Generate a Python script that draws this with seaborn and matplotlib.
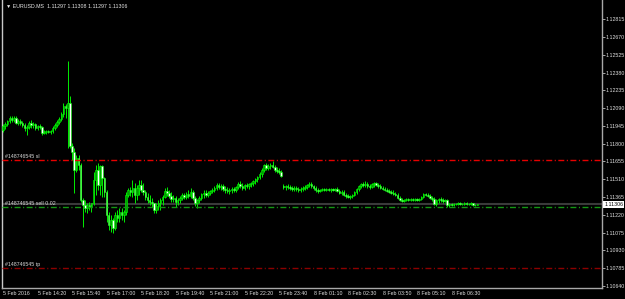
import numpy as np
import pandas as pd
import matplotlib
matplotlib.use("Agg")
import matplotlib.pyplot as plt
import matplotlib.font_manager as fm
import seaborn as sns

# ---------------- data ----------------
symbol = "EURUSD.MS"
order_id = "#148746545"
lot_size = "0.02"

open_ = [
    1.11912, 1.11945, 1.11961, 1.11986, 1.12010, 1.11994, 1.12010, 1.11969, 1.11986, 1.11969,
    1.11953, 1.11928, 1.11937, 1.11969, 1.11953, 1.11961, 1.11928, 1.11945, 1.11937, 1.11888,
    1.11896, 1.11904, 1.11896, 1.11904, 1.11928, 1.11953, 1.11977, 1.12002, 1.12043, 1.12108,
    1.12092, 1.12132, 1.11782, 1.11733, 1.11586, 1.11684, 1.11627, 1.11341, 1.11300, 1.11276,
    1.11300, 1.11284, 1.11317, 1.11504, 1.11586, 1.11463, 1.11618, 1.11520, 1.11406, 1.11219,
    1.11137, 1.11178, 1.11112, 1.11219, 1.11194, 1.11243, 1.11219, 1.11243, 1.11382, 1.11423,
    1.11406, 1.11439, 1.11382, 1.11439, 1.11463, 1.11423, 1.11406, 1.11365, 1.11341, 1.11325,
    1.11317, 1.11259, 1.11292, 1.11317, 1.11341, 1.11365, 1.11414, 1.11398, 1.11374, 1.11349,
    1.11357, 1.11325, 1.11341, 1.11357, 1.11382, 1.11365, 1.11390, 1.11374, 1.11406, 1.11357,
    1.11317, 1.11341, 1.11357, 1.11390, 1.11398, 1.11382, 1.11398, 1.11414, 1.11423, 1.11439,
    1.11463, 1.11447, 1.11455, 1.11431, 1.11423, 1.11414, 1.11423, 1.11431, 1.11423, 1.11447,
    1.11472, 1.11455, 1.11439, 1.11463, 1.11455, 1.11472, 1.11480, 1.11496, 1.11512, 1.11529,
    1.11553, 1.11586, 1.11627, 1.11602, 1.11618, 1.11627, 1.11610, 1.11586, 1.11578, 1.11569,
    1.11455, 1.11447, 1.11455, 1.11447, 1.11439, 1.11431, 1.11439, 1.11431, 1.11423, 1.11431,
    1.11439, 1.11447, 1.11463, 1.11472, 1.11455, 1.11439, 1.11423, 1.11414, 1.11423, 1.11431,
    1.11423, 1.11431, 1.11423, 1.11431, 1.11423, 1.11431, 1.11414, 1.11398, 1.11406, 1.11382,
    1.11374, 1.11365, 1.11374, 1.11382, 1.11406, 1.11431, 1.11455, 1.11472, 1.11463, 1.11472,
    1.11455, 1.11447, 1.11472, 1.11480, 1.11463, 1.11455, 1.11439, 1.11431, 1.11423, 1.11414,
    1.11406, 1.11398, 1.11390, 1.11382, 1.11357, 1.11341, 1.11333, 1.11341, 1.11349, 1.11341,
    1.11349, 1.11341, 1.11349, 1.11341, 1.11349, 1.11365, 1.11390, 1.11382, 1.11374, 1.11357,
    1.11349, 1.11308, 1.11341, 1.11349, 1.11341, 1.11333, 1.11341, 1.11300, 1.11308, 1.11300,
    1.11308, 1.11308, 1.11317, 1.11308, 1.11308, 1.11317, 1.11308, 1.11308, 1.11317, 1.11300,
    1.11297,
]
high = [
    1.11961, 1.11977, 1.11994, 1.12026, 1.12026, 1.12026, 1.12026, 1.12002, 1.12002, 1.11986,
    1.11969, 1.11953, 1.11986, 1.11994, 1.11977, 1.11969, 1.11953, 1.11961, 1.11945, 1.11912,
    1.11912, 1.11912, 1.11912, 1.11945, 1.11969, 1.11994, 1.12018, 1.12059, 1.12132, 1.12124,
    1.12475, 1.12190, 1.11806, 1.11765, 1.11708, 1.11708, 1.11643, 1.11357, 1.11341, 1.11317,
    1.11325, 1.11308, 1.11569, 1.11627, 1.11643, 1.11627, 1.11627, 1.11529, 1.11423, 1.11243,
    1.11219, 1.11194, 1.11243, 1.11259, 1.11276, 1.11276, 1.11259, 1.11406, 1.11439, 1.11447,
    1.11504, 1.11480, 1.11463, 1.11504, 1.11504, 1.11480, 1.11423, 1.11398, 1.11382, 1.11357,
    1.11317, 1.11317, 1.11341, 1.11357, 1.11382, 1.11439, 1.11447, 1.11423, 1.11406, 1.11382,
    1.11374, 1.11357, 1.11374, 1.11398, 1.11398, 1.11406, 1.11423, 1.11439, 1.11423, 1.11374,
    1.11349, 1.11374, 1.11398, 1.11423, 1.11423, 1.11414, 1.11423, 1.11439, 1.11455, 1.11480,
    1.11480, 1.11472, 1.11472, 1.11455, 1.11447, 1.11439, 1.11447, 1.11447, 1.11455, 1.11488,
    1.11496, 1.11480, 1.11472, 1.11480, 1.11480, 1.11488, 1.11504, 1.11520, 1.11537, 1.11569,
    1.11602, 1.11635, 1.11643, 1.11635, 1.11643, 1.11659, 1.11627, 1.11610, 1.11602, 1.11586,
    1.11472, 1.11463, 1.11472, 1.11463, 1.11455, 1.11455, 1.11455, 1.11447, 1.11447, 1.11455,
    1.11463, 1.11472, 1.11488, 1.11488, 1.11463, 1.11455, 1.11439, 1.11431, 1.11439, 1.11439,
    1.11439, 1.11439, 1.11439, 1.11439, 1.11439, 1.11447, 1.11431, 1.11423, 1.11423, 1.11398,
    1.11390, 1.11382, 1.11390, 1.11414, 1.11439, 1.11463, 1.11480, 1.11488, 1.11496, 1.11488,
    1.11472, 1.11480, 1.11488, 1.11488, 1.11480, 1.11472, 1.11455, 1.11447, 1.11439, 1.11431,
    1.11423, 1.11423, 1.11406, 1.11398, 1.11374, 1.11357, 1.11349, 1.11357, 1.11357, 1.11357,
    1.11357, 1.11357, 1.11357, 1.11357, 1.11374, 1.11398, 1.11398, 1.11398, 1.11390, 1.11374,
    1.11365, 1.11349, 1.11357, 1.11365, 1.11357, 1.11349, 1.11349, 1.11317, 1.11317, 1.11317,
    1.11317, 1.11325, 1.11325, 1.11317, 1.11325, 1.11325, 1.11317, 1.11325, 1.11317, 1.11308,
    1.11308,
]
low = [
    1.11896, 1.11920, 1.11945, 1.11969, 1.11977, 1.11977, 1.11961, 1.11953, 1.11953, 1.11937,
    1.11904, 1.11871, 1.11920, 1.11928, 1.11928, 1.11912, 1.11912, 1.11920, 1.11871, 1.11880,
    1.11880, 1.11888, 1.11880, 1.11888, 1.11912, 1.11937, 1.11961, 1.11986, 1.12018, 1.12010,
    1.11765, 1.11765, 1.11667, 1.11398, 1.11569, 1.11586, 1.11325, 1.11121, 1.11243, 1.11235,
    1.11259, 1.11243, 1.11300, 1.11382, 1.11423, 1.11382, 1.11365, 1.11365, 1.11161, 1.11096,
    1.11080, 1.11072, 1.11096, 1.11161, 1.11161, 1.11178, 1.11161, 1.11219, 1.11365, 1.11374,
    1.11365, 1.11317, 1.11341, 1.11382, 1.11406, 1.11382, 1.11341, 1.11317, 1.11300, 1.11284,
    1.11235, 1.11235, 1.11259, 1.11259, 1.11300, 1.11357, 1.11374, 1.11357, 1.11325, 1.11325,
    1.11284, 1.11300, 1.11317, 1.11341, 1.11349, 1.11349, 1.11357, 1.11357, 1.11341, 1.11292,
    1.11276, 1.11317, 1.11341, 1.11357, 1.11365, 1.11365, 1.11382, 1.11398, 1.11406, 1.11423,
    1.11431, 1.11423, 1.11414, 1.11398, 1.11398, 1.11390, 1.11398, 1.11406, 1.11406, 1.11431,
    1.11439, 1.11423, 1.11423, 1.11439, 1.11431, 1.11447, 1.11455, 1.11472, 1.11488, 1.11512,
    1.11529, 1.11569, 1.11586, 1.11586, 1.11594, 1.11602, 1.11569, 1.11561, 1.11553, 1.11529,
    1.11431, 1.11423, 1.11431, 1.11423, 1.11414, 1.11414, 1.11414, 1.11406, 1.11406, 1.11414,
    1.11423, 1.11431, 1.11447, 1.11439, 1.11423, 1.11406, 1.11398, 1.11406, 1.11414, 1.11414,
    1.11414, 1.11414, 1.11406, 1.11414, 1.11414, 1.11406, 1.11390, 1.11382, 1.11374, 1.11357,
    1.11357, 1.11349, 1.11357, 1.11374, 1.11390, 1.11414, 1.11439, 1.11447, 1.11447, 1.11439,
    1.11431, 1.11439, 1.11447, 1.11455, 1.11439, 1.11431, 1.11423, 1.11414, 1.11406, 1.11398,
    1.11390, 1.11382, 1.11374, 1.11349, 1.11333, 1.11325, 1.11325, 1.11333, 1.11333, 1.11333,
    1.11333, 1.11333, 1.11333, 1.11333, 1.11341, 1.11357, 1.11374, 1.11365, 1.11349, 1.11333,
    1.11300, 1.11292, 1.11317, 1.11325, 1.11317, 1.11325, 1.11284, 1.11284, 1.11292, 1.11292,
    1.11300, 1.11300, 1.11300, 1.11300, 1.11300, 1.11300, 1.11300, 1.11300, 1.11292, 1.11292,
    1.11297,
]
close = [
    1.11945, 1.11961, 1.11986, 1.12010, 1.11994, 1.12010, 1.11969, 1.11986, 1.11969, 1.11953,
    1.11928, 1.11937, 1.11969, 1.11953, 1.11961, 1.11928, 1.11945, 1.11937, 1.11888, 1.11896,
    1.11904, 1.11896, 1.11904, 1.11928, 1.11953, 1.11977, 1.12002, 1.12043, 1.12108, 1.12092,
    1.12132, 1.11782, 1.11733, 1.11586, 1.11684, 1.11627, 1.11341, 1.11300, 1.11276, 1.11300,
    1.11284, 1.11317, 1.11504, 1.11586, 1.11463, 1.11618, 1.11520, 1.11406, 1.11219, 1.11137,
    1.11178, 1.11112, 1.11219, 1.11194, 1.11243, 1.11219, 1.11243, 1.11382, 1.11423, 1.11406,
    1.11439, 1.11382, 1.11439, 1.11463, 1.11423, 1.11406, 1.11365, 1.11341, 1.11325, 1.11317,
    1.11259, 1.11292, 1.11317, 1.11341, 1.11365, 1.11414, 1.11398, 1.11374, 1.11349, 1.11357,
    1.11325, 1.11341, 1.11357, 1.11382, 1.11365, 1.11390, 1.11374, 1.11406, 1.11357, 1.11317,
    1.11341, 1.11357, 1.11390, 1.11398, 1.11382, 1.11398, 1.11414, 1.11423, 1.11439, 1.11463,
    1.11447, 1.11455, 1.11431, 1.11423, 1.11414, 1.11423, 1.11431, 1.11423, 1.11447, 1.11472,
    1.11455, 1.11439, 1.11463, 1.11455, 1.11472, 1.11480, 1.11496, 1.11512, 1.11529, 1.11553,
    1.11586, 1.11627, 1.11602, 1.11618, 1.11627, 1.11610, 1.11586, 1.11578, 1.11569, 1.11537,
    1.11447, 1.11455, 1.11447, 1.11439, 1.11431, 1.11439, 1.11431, 1.11423, 1.11431, 1.11439,
    1.11447, 1.11463, 1.11472, 1.11455, 1.11439, 1.11423, 1.11414, 1.11423, 1.11431, 1.11423,
    1.11431, 1.11423, 1.11431, 1.11423, 1.11431, 1.11414, 1.11398, 1.11406, 1.11382, 1.11374,
    1.11365, 1.11374, 1.11382, 1.11406, 1.11431, 1.11455, 1.11472, 1.11463, 1.11472, 1.11455,
    1.11447, 1.11472, 1.11480, 1.11463, 1.11455, 1.11439, 1.11431, 1.11423, 1.11414, 1.11406,
    1.11398, 1.11390, 1.11382, 1.11357, 1.11341, 1.11333, 1.11341, 1.11349, 1.11341, 1.11349,
    1.11341, 1.11349, 1.11341, 1.11349, 1.11365, 1.11390, 1.11382, 1.11374, 1.11357, 1.11349,
    1.11308, 1.11341, 1.11349, 1.11341, 1.11333, 1.11341, 1.11300, 1.11308, 1.11300, 1.11308,
    1.11308, 1.11317, 1.11308, 1.11308, 1.11317, 1.11308, 1.11308, 1.11317, 1.11300, 1.11300,
    1.11306,
]

time_label_bars = [0, 16, 32, 48, 64, 80, 96, 112, 128, 144, 160, 176, 192, 208]
time_labels = ["5 Feb 2016", "5 Feb 14:20", "5 Feb 15:40", "5 Feb 17:00", "5 Feb 18:20",
               "5 Feb 19:40", "5 Feb 21:00", "5 Feb 22:20", "5 Feb 23:40", "8 Feb 01:10",
               "8 Feb 02:30", "8 Feb 03:50", "8 Feb 05:10", "8 Feb 06:30"]
price_ticks = [1.12815, 1.12670, 1.12525, 1.12380, 1.12235, 1.12090, 1.11945, 1.11800,
               1.11655, 1.11510, 1.11365, 1.11220, 1.11075, 1.10930, 1.10785, 1.10640]

sl_price = 1.11665
sell_price = 1.11281
tp_price = 1.10789
bid_price = 1.11306

# ---------------- style ----------------
sns.set_theme(style="dark", rc={
    "axes.facecolor": "black", "figure.facecolor": "black",
    "axes.grid": False, "text.color": "white",
})
FONT = "Liberation Sans"
plt.rcParams["font.family"] = [FONT, "DejaVu Sans"]
FS = 3.75

df = pd.DataFrame({"open": open_, "high": high, "low": low, "close": close})
df["bar"] = np.arange(len(df))
df["bull"] = df["close"] >= df["open"]
df["body_lo"] = df[["open", "close"]].min(axis=1)
df["body_h"] = (df["close"] - df["open"]).abs()

fig = plt.figure(figsize=(6.25, 2.99), dpi=100)
ax = fig.add_axes([2 / 625, 11 / 299, 600 / 625, 288 / 299])
ax.set_facecolor("black")

# bid line (under candles)
ax.axhline(bid_price, color="#3a3a3a", lw=1.5, zorder=1)

# candles
ax.vlines(df["bar"], df["low"], df["high"], color="#00ee00", lw=0.7, zorder=3)
up = df[df["bull"]]
dn = df[~df["bull"]]
ax.bar(up["bar"], up["body_h"], bottom=up["body_lo"], width=0.72,
       color="#00a000", edgecolor="#00ff00", linewidth=0.4, zorder=4)
ax.bar(dn["bar"], dn["body_h"], bottom=dn["body_lo"], width=0.72,
       color="white", edgecolor="#00ff00", linewidth=0.4, zorder=4)

# order lines
dashdot = (0, (4.3, 1.8, 0.8, 1.8))
ax.axhline(sl_price, color="#e60000", lw=1.0, ls=dashdot, zorder=5)
ax.axhline(sell_price, color="#149614", lw=1.0, ls=dashdot, zorder=5)
ax.axhline(tp_price, color="#8c0000", lw=1.0, ls=dashdot, zorder=5)

lab_kw = dict(xycoords=("axes fraction", "data"), textcoords="offset points",
              fontsize=FS, color="#d8d8d8", ha="left", va="center", zorder=6)
ax.annotate(f"{order_id} sl", (3 / 600, sl_price), xytext=(0, 2.6), **lab_kw)
ax.annotate(f"{order_id} sell {lot_size}", (3 / 600, sell_price), xytext=(0, 2.9), **lab_kw)
ax.annotate(f"{order_id} tp", (3 / 600, tp_price), xytext=(0, 2.0), **lab_kw)

# axes limits
ax.set_xlim(-0.5, 277.8)
ax.set_ylim(1.106224, 1.129725)

# price axis
ax.yaxis.tick_right()
ax.set_yticks(price_ticks)
ax.set_yticklabels([f"{p:.5f}" for p in price_ticks])
ax.tick_params(axis="y", which="both", direction="out", length=1.8, width=0.6,
               color="#c0c0c0", labelcolor="#e0e0e0", labelsize=FS, pad=1.0,
               left=False, right=True)
ax.annotate(f"{bid_price:.5f}", (1, bid_price), xycoords=("axes fraction", "data"),
            xytext=(1.6, 0), textcoords="offset points", fontsize=FS, color="black",
            ha="left", va="center", annotation_clip=False,
            bbox=dict(boxstyle="square,pad=0.2", fc="white", ec="none"))

# time axis
ax.set_xticks(time_label_bars)
ax.set_xticklabels(time_labels, ha="left")
ax.tick_params(axis="x", direction="out", length=1.6, width=0.6, color="#c0c0c0",
               labelcolor="#e0e0e0", labelsize=FS, pad=0.8)

for side, col in [("left", "#c8c8c8"), ("right", "#a8a8a8"), ("bottom", "#a8a8a8")]:
    ax.spines[side].set_visible(True)
    ax.spines[side].set_color(col)
    ax.spines[side].set_linewidth(1.0)
ax.spines["top"].set_visible(False)

# header
ax.text(4 / 600, 1 - 6 / 288,
        f"\u25bc {symbol}  {open_[-1]:.5f} {high[-1]:.5f} {low[-1]:.5f} {close[-1]:.5f}",
        transform=ax.transAxes, fontsize=FS, color="#e8e8e8", ha="left", va="center",
        family=[FONT, "DejaVu Sans"])

fig.savefig("out.png", dpi=100, facecolor="black")
